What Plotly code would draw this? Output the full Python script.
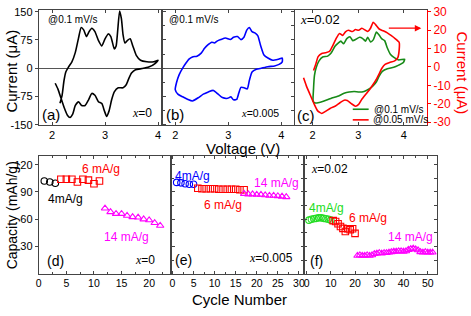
import plotly.graph_objects as go

W, H = 471, 316
FONT = "Liberation Sans"
AX = "#444444"

# ---------------- data ----------------
# (a) x=0, CV @0.1 mV/s
cv_a_V = [2.15, 2.19, 2.225, 2.26, 2.31, 2.375, 2.44, 2.5, 2.55, 2.6, 2.65, 2.7, 2.75, 2.81, 2.875, 2.94, 3.0,
          3.06, 3.11, 3.175, 3.21, 3.24, 3.275, 3.31, 3.34, 3.375, 3.425, 3.475, 3.525, 3.59, 3.67, 3.79, 3.92,
          4.0, 3.95, 3.825, 3.7, 3.575, 3.5, 3.45, 3.4, 3.34, 3.25, 3.175, 3.125, 3.075, 3.03, 2.99, 2.94, 2.875,
          2.81, 2.75, 2.69, 2.625, 2.56, 2.5, 2.44, 2.39, 2.34, 2.29, 2.23, 2.17, 2.11, 2.06]
cv_a_I = [-93, -72, -34, -10, 3, 17, 42, 80, 108, 101, 84, 97, 106, 97, 74, 59, 78, 91, 84, 51, 59, 101, 152,
          131, 89, 67, 74, 78, 59, 34, 21, 17, 17, 21, 13, 3, -1, -4, -13, -27, -44, -52, -52, -63, -84, -114,
          -128, -114, -94, -89, -72, -67, -84, -99, -99, -89, -99, -122, -131, -125, -105, -80, -55, -40]

# (b) x=0.005, CV @0.1 mV/s
cv_b_V = [2.0, 2.025, 2.075, 2.14, 2.2, 2.26, 2.325, 2.41, 2.49, 2.55, 2.61, 2.69, 2.74, 2.79, 2.86, 2.95, 3.04,
          3.1, 3.175, 3.24, 3.3, 3.35, 3.4, 3.45, 3.51, 3.56, 3.61, 3.675, 3.75, 3.84, 3.95, 4.02,
          4.02, 3.96, 3.875, 3.75, 3.625, 3.53, 3.45, 3.4, 3.36, 3.3, 3.24, 3.2, 3.16, 3.1, 3.05, 2.99, 2.89,
          2.81, 2.72, 2.625, 2.53, 2.44, 2.325, 2.24, 2.14, 2.05, 2.0]
cv_b_I = [-57, -38, -17, 0, 13, 24, 30, 32, 40, 52, 61, 69, 67, 72, 76, 80, 76, 82, 84, 76, 83, 101, 108, 97, 93,
          86, 61, 35, 27, 21, 24, 27,
          17, 10, 6, 4, 0, -3, -10, -32, -55, -52, -51, -66, -83, -84, -76, -80, -78, -69, -59, -63, -69, -78,
          -87, -83, -76, -69, -57]

# (c) x=0.02, CV @0.1 mV/s (green) and @0.05 mV/s (red)
cv_c1_V = [2.01, 2.02, 2.04, 2.08, 2.14, 2.22, 2.33, 2.41, 2.49, 2.56, 2.62, 2.68, 2.75, 2.82, 2.88, 2.95, 3.03,
           3.1, 3.16, 3.21, 3.27, 3.33, 3.4, 3.46, 3.52, 3.58, 3.64, 3.71, 3.8, 3.89, 4.02,
           3.99, 3.89, 3.78, 3.64, 3.53, 3.46, 3.4, 3.33, 3.24, 3.13, 3.02, 2.91, 2.8, 2.69, 2.55, 2.4, 2.25,
           2.12, 2.04, 2.01]
cv_c1_I = [-18.5, -11.5, -4.5, -0.2, 3.3, 5.4, 5.9, 7.7, 11.2, 12.9, 14, 12.6, 15.4, 16.4, 14.3, 15, 16.1, 15.4,
           14, 16.1, 13.6, 14.7, 18.9, 17.3, 15.2, 14.3, 10.3, 6.8, 4.9, 3.8, 4.2,
           2.4, 1, -0.2, -1, -2.4, -4.9, -8, -10.1, -11.9, -13.3, -13.6, -13.3, -13.6, -14.3, -15.9, -17.1,
           -18.5, -19.4, -19.4, -18.5]
cv_c2_V = [2.02, 2.07, 2.12, 2.2, 2.28, 2.37, 2.44, 2.52, 2.59, 2.66, 2.72, 2.79, 2.87, 2.94, 3.01, 3.08, 3.16,
           3.21, 3.27, 3.33, 3.39, 3.46, 3.55, 3.64, 3.72, 3.81, 3.9, 3.9, 3.87,
           3.8, 3.69, 3.59, 3.52, 3.46, 3.4, 3.33, 3.26, 3.17, 3.08, 3.01, 2.94, 2.85, 2.76, 2.69, 2.6, 2.5,
           2.39, 2.28, 2.2, 2.11, 2.02, 1.93, 1.86, 1.8]
cv_c2_I = [-1.9, 1.6, 5.6, 7.3, 7.7, 8.4, 11.5, 15.7, 18.2, 17.1, 19.1, 19.9, 19.2, 20.3, 19.9, 21, 19.9, 19.2,
           21, 24.3, 22.7, 20.6, 19.6, 18.5, 17.1, 15.4, 13.3, 9.4, 5.1,
           3.3, 2.4, 1.4, -0.7, -3.7, -6.6, -9.4, -11.9, -14.7, -17.5, -20.3, -21.3, -19.9, -18.2, -18, -19.4,
           -21.2, -22.4, -24.1, -25.2, -23.8, -19.4, -14.2, -10.1, -5.9]

# (d) x=0 capacity
d4_x = [1, 2, 3]
d4_y = [102, 101, 99.5]
d6_x = list(range(4, 12))
d6_y = [104, 104, 104, 101, 104, 103, 99, 102]
d14_x = list(range(12, 23))
d14_y = [72, 68, 66, 66, 64, 62.5, 62, 60, 59, 56, 53]

# (e) x=0.005 capacity
e4_x = [1, 2, 3, 4, 5]
e4_y = [100.5, 100, 99, 98.5, 98.5]
e6_x = list(range(6, 18))
e6_y = [94, 93.5, 93.5, 93.5, 93.5, 93, 93, 93, 93, 93, 92.5, 92.5]
e14_x = list(range(17, 28))
e14_y = [88, 87.5, 87.5, 87, 87, 86.5, 86, 86, 85.5, 85, 84.5]

# (f) x=0.02 capacity
f4_x = list(range(1, 11))
f4_y = [59, 60, 60.5, 61, 61.5, 61.5, 61, 60.5, 60, 59]
f6_x = list(range(11, 21))
f6_y = [58.5, 57.5, 55, 52, 50, 46.5, 49.5, 48.5, 49.5, 44.5]
f14_x = list(range(21, 53))
f14_y = [20, 20.5, 20, 20, 20.5, 20, 20.5,
         22, 22.5, 23, 22.5, 23, 23, 23.5,
         24, 24.5, 24.5, 25, 25, 24.5, 25,
         26.5, 27.5, 28, 27, 26,
         24, 23.5, 24, 23.5, 23.5, 23.5]

cv_ticks = [2, 3, 4]
cur_ticks = [-150, -75, 0, 75, 150]
cur_minor = [-112.5, -75, -37.5, 0, 37.5, 75, 112.5, 150]
red_ticks = [-30, -20, -10, 0, 10, 20, 30]
cap_ticks = [30, 60, 90, 120]
cap_minor = [15, 30, 45, 60, 75, 90, 105, 120]

# ---------------- figure ----------------
fig = go.Figure()


def line(x, y, xa, ya, color, width=1.6):
    fig.add_trace(go.Scatter(x=x, y=y, xaxis=xa, yaxis=ya, mode="lines",
                             line=dict(color=color, width=width, shape="spline", smoothing=0.5),
                             showlegend=False, hoverinfo="skip"))


def marks(x, y, xa, ya, color, symbol):
    fig.add_trace(go.Scatter(x=x, y=y, xaxis=xa, yaxis=ya, mode="markers",
                             marker=dict(symbol=symbol, size=6.5, color=color, line=dict(color=color, width=1.1)),
                             showlegend=False, hoverinfo="skip"))


line(cv_a_V, cv_a_I, "x", "y", "black")
line(cv_b_V, cv_b_I, "x2", "y2", "#0000ff")
line(cv_c1_V, cv_c1_I, "x3", "y4", "#178a17")
line(cv_c2_V, cv_c2_I, "x3", "y4", "#ff0000")

marks(d4_x, d4_y, "x4", "y5", "black", "circle-open")
marks(d6_x, d6_y, "x4", "y5", "#ff0000", "square-open")
marks(d14_x, d14_y, "x4", "y5", "#ff00ff", "triangle-up-open")
marks(e4_x, e4_y, "x5", "y6", "#0000ff", "circle-open")
marks(e6_x, e6_y, "x5", "y6", "#ff0000", "square-open")
marks(e14_x, e14_y, "x5", "y6", "#ff00ff", "triangle-up-open")
marks(f4_x, f4_y, "x6", "y7", "#22dd22", "circle-open")
marks(f6_x, f6_y, "x6", "y7", "#ff0000", "square-open")
marks(f14_x, f14_y, "x6", "y7", "#ff00ff", "triangle-up-open")


def px(v):
    return v / W


def py(v):
    return 1 - v / H


TOP = [py(124), py(5)]
BOT = [py(278.5), py(156)]
tickfont = dict(family=FONT, size=11, color="black")
tickfont_b = dict(family=FONT, size=10.5, color="black")


def xax(domain, rng, anchor, vals, minor_dtick=None, font=tickfont):
    d = dict(domain=domain, range=rng, anchor=anchor, tickmode="array", tickvals=vals,
             ticktext=[str(v) for v in vals], ticks="inside", ticklen=3, tickcolor=AX, tickwidth=1,
             showline=True, linecolor=AX, linewidth=1, mirror="ticks", showgrid=False, zeroline=False,
             tickfont=font)
    if minor_dtick:
        d["minor"] = dict(tickmode="linear", tick0=0, dtick=minor_dtick, ticks="inside", ticklen=2,
                          tickcolor=AX, showgrid=False)
    return d


def yax(domain, rng, anchor, vals, labels, zero=False, mirror="ticks"):
    d = dict(domain=domain, range=rng, anchor=anchor, tickmode="array", tickvals=vals,
             ticktext=[str(v).replace(".0", "") for v in vals], showticklabels=labels,
             ticks="outside" if labels else "inside", ticklen=3, tickcolor=AX, tickwidth=1,
             showline=True, linecolor=AX, linewidth=1, mirror=mirror, showgrid=False,
             zeroline=zero, zerolinecolor="#555555", zerolinewidth=1, tickfont=tickfont)
    return d


xa_dom = [px(36), px(160)]
xb_dom = [px(160), px(293.3)]
xc_dom = [px(293.3), px(426.7)]
xd_dom = [px(36), px(169.3)]
xe_dom = [px(169.3), px(303.3)]
xf_dom = [px(303.3), px(436.5)]

fig.update_layout(
    width=W, height=H, margin=dict(l=0, r=0, t=0, b=0),
    paper_bgcolor="white", plot_bgcolor="white", showlegend=False,
    font=dict(family=FONT, color="black"),
    xaxis=xax(xa_dom, [1.75, 4.075], "y", cv_ticks),
    xaxis2=xax(xb_dom, [1.75, 4.25], "y2", cv_ticks),
    xaxis3=xax(xc_dom, [1.6, 4.51], "y3", cv_ticks),
    xaxis4=xax(xd_dom, [0, 24], "y5", [0, 5, 10, 15, 20], 2.5, tickfont_b),
    xaxis5=xax(xe_dom, [-0.3, 31.3], "y6", [0, 5, 10, 15, 20, 25, 30], 2.5, tickfont_b),
    xaxis6=xax(xf_dom, [-0.9, 53.7], "y7", [0, 10, 20, 30, 40, 50], 5, tickfont_b),
    yaxis=yax(TOP, [-150, 155], "x", cur_ticks, True, zero=True),
    yaxis2=yax(TOP, [-150, 155], "x2", cur_minor, False, zero=True),
    yaxis3=yax(TOP, [-150, 155], "x3", cur_minor, False, zero=True, mirror=False),
    yaxis4=dict(domain=TOP, range=[-31.3, 31], anchor="x3", overlaying="y3", side="right",
                tickmode="array", tickvals=red_ticks, ticktext=[str(v) for v in red_ticks],
                ticks="outside", ticklen=3, tickcolor="#ff0000", showline=True, linecolor="#ff0000",
                linewidth=1, showgrid=False, zeroline=False,
                tickfont=dict(family=FONT, size=12, color="#ff0000")),
    yaxis5=yax(BOT, [0, 130], "x4", cap_ticks, True),
    yaxis6=yax(BOT, [0, 130], "x5", cap_minor, False),
    yaxis7=yax(BOT, [0, 130], "x6", cap_minor, False),
)

ann = []


def text(t, x, y, size=12, color="black", xanchor="left", angle=0):
    ann.append(dict(text=t, x=px(x), y=py(y), xref="paper", yref="paper", xanchor=xanchor, yanchor="middle",
                    showarrow=False, textangle=angle, font=dict(family=FONT, size=size, color=color)))


def xi(rest):
    return '<span style="font-family:Liberation Serif"><i>x</i></span>' + rest


# top row texts
text("@0.1 mV/s", 43, 15, 10)
text("@0.1 mV/s", 165, 15, 10)
text(xi("=0.02"), 297, 15, 13)
text("(a)", 37, 113, 15)
text(xi("=0"), 152, 112, 12, xanchor="right")
text("(b)", 162, 113, 15)
text(xi("=0.005"), 280, 112, 10.5, xanchor="right")
text("(c)", 294, 115, 15)
text("@0.1 mV/s", 371, 108, 10)
text("@0.05 mV/s", 370, 119, 10)

# axis titles
text("Current (μA)", 9, 68, 15, xanchor="center", angle=-90)
text("Current (μA)", 462, 70, 15, color="#ff0000", xanchor="center", angle=90)
text("Voltage (V)", 242, 148.5, 15, xanchor="center")
text("Capacity (mAh/g)", 9, 218, 14, xanchor="center", angle=-90)
text("Cycle Number", 238, 305, 15, xanchor="center")

# bottom row texts
text("6 mA/g", 77, 170, 12, "#ff0000")
text("4mA/g", 43, 201, 12)
text("14 mA/g", 100, 240, 12, "#ff00ff")
text("(d)", 42, 265, 14)
text(xi("=0"), 155, 264, 12, xanchor="right")
text("4mA/g", 171, 177, 12, "#0000ff")
text("6 mA/g", 200, 207, 12, "#ff0000")
text("14 mA/g", 251, 184, 12, "#ff00ff")
text("(e)", 171, 264, 14)
text(xi("=0.005"), 294, 262, 12, xanchor="right")
text(xi("=0.02"), 308, 170, 12)
text("4mA/g", 306, 210, 12, "#22dd22")
text("6 mA/g", 346, 221, 12, "#ff0000")
text("14 mA/g", 385, 240, 12, "#ff00ff")
text("(f)", 307, 265, 14)

# arrow pointing to right axis
ann.append(dict(x=px(421), y=py(24), xref="paper", yref="paper", ax=-34, ay=0, text="",
                showarrow=True, arrowhead=2, arrowsize=1, arrowwidth=1.3, arrowcolor="#ff0000"))

fig.update_layout(annotations=ann)

# legend sample lines for panel (c)
fig.add_shape(type="line", xref="paper", yref="paper", x0=px(352), x1=px(368), y0=py(108), y1=py(108),
              line=dict(color="#178a17", width=1.6))
fig.add_shape(type="line", xref="paper", yref="paper", x0=px(352), x1=px(368), y0=py(119), y1=py(119),
              line=dict(color="#ff0000", width=1.6))

fig.write_html("out.html", config={"displayModeBar": False},
               post_script="document.body.style.margin='0';document.body.style.padding='0';")
